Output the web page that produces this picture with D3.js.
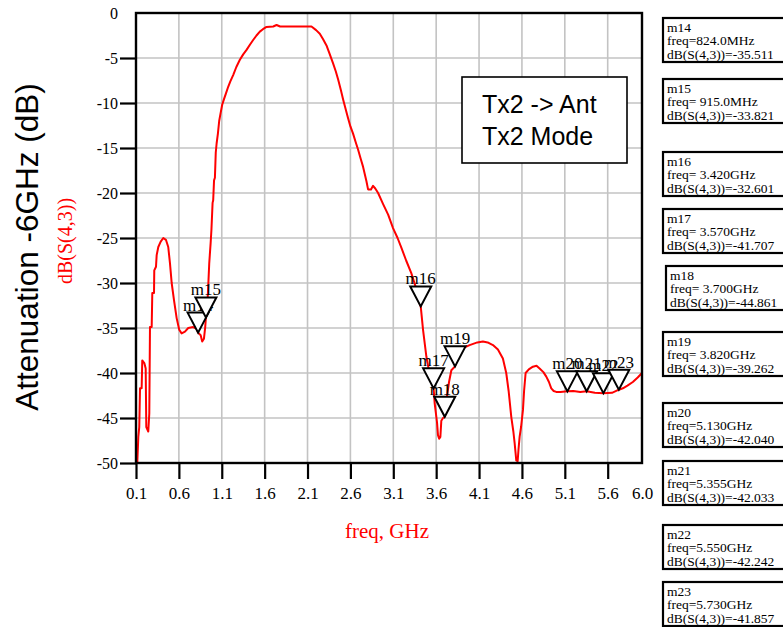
<!DOCTYPE html>
<html>
<head>
<meta charset="utf-8">
<script src="https://cdn.jsdelivr.net/npm/d3@7"></script>
<style>
  html, body { margin: 0; padding: 0; background: #fff; }
  svg { display: block; }
  .serif { font-family: "Liberation Serif", "Times New Roman", serif; }
  .sans { font-family: "Liberation Sans", Arial, sans-serif; }
</style>
</head>
<body>
<svg id="chart" width="783" height="627"></svg>
<script>
// Transmission dB(S(4,3)) versus frequency (GHz)
const freq = [
  0.115, 0.127, 0.138, 0.147, 0.166, 0.173, 0.197, 0.213, 0.220, 0.243,
  0.255, 0.263, 0.283, 0.290, 0.310, 0.313, 0.333, 0.341, 0.360, 0.388,
  0.418, 0.449, 0.476, 0.496, 0.516, 0.543, 0.574, 0.604, 0.632, 0.671,
  0.709, 0.767, 0.807, 0.824, 0.854, 0.872, 0.892, 0.907, 0.915, 0.931,
  0.942, 0.954, 0.970, 0.980, 0.993, 1.000, 1.010, 1.020, 1.030, 1.040,
  1.055, 1.070, 1.087, 1.105, 1.125, 1.150, 1.175, 1.200, 1.233, 1.270,
  1.311, 1.350, 1.389, 1.430, 1.466, 1.505, 1.544, 1.580, 1.622, 1.700,
  1.739, 1.780, 1.816, 2.000, 2.146, 2.200, 2.243, 2.280, 2.321, 2.360,
  2.398, 2.430, 2.457, 2.490, 2.515, 2.545, 2.573, 2.600, 2.631, 2.660,
  2.690, 2.720, 2.748, 2.787, 2.806, 2.840, 2.864, 2.890, 2.923, 2.980,
  3.040, 3.097, 3.150, 3.195, 3.250, 3.310, 3.360, 3.408, 3.420, 3.447,
  3.486, 3.530, 3.570, 3.583, 3.610, 3.621, 3.635, 3.649, 3.660, 3.680,
  3.700, 3.720, 3.750, 3.777, 3.820, 3.855, 3.900, 3.990, 4.080, 4.145,
  4.200, 4.262, 4.320, 4.378, 4.417, 4.445, 4.476, 4.500, 4.515, 4.534,
  4.550, 4.560, 4.573, 4.590, 4.612, 4.625, 4.643, 4.680, 4.728, 4.770,
  4.806, 4.850, 4.884, 4.915, 4.942, 4.970, 5.000, 5.050, 5.130, 5.200,
  5.280, 5.355, 5.450, 5.550, 5.650, 5.730, 5.777, 5.830, 5.893, 5.950,
  6.000
];
const s43dB = [
  -50.0, -47.1, -46.0, -41.7, -41.7, -38.6, -38.9, -39.5, -46.0, -46.5,
  -44.5, -34.9, -34.9, -31.1, -31.1, -28.6, -28.2, -26.9, -26.0, -25.4,
  -25.0, -25.2, -26.0, -27.8, -30.0, -31.9, -33.9, -35.2, -35.6, -35.4,
  -35.0, -34.9, -35.1, -35.511, -35.8, -36.5, -36.2, -34.9, -33.821, -32.6,
  -30.4, -27.8, -25.6, -24.0, -21.1, -20.8, -18.6, -18.3, -15.5, -14.5,
  -13.4, -12.0, -11.1, -10.2, -9.6, -8.9, -8.2, -7.6, -6.9, -6.0,
  -5.2, -4.6, -4.1, -3.5, -3.0, -2.5, -2.07, -1.8, -1.55, -1.5,
  -1.33, -1.5, -1.5, -1.5, -1.5, -1.9, -2.3, -2.9, -3.6, -4.6,
  -5.6, -6.5, -7.4, -8.6, -9.6, -10.7, -11.7, -12.6, -13.4, -14.3,
  -15.2, -16.2, -17.1, -18.7, -19.6, -19.6, -19.2, -19.5, -20.0, -21.2,
  -22.4, -23.9, -25.0, -26.1, -27.5, -28.9, -30.4, -32.3, -32.601, -35.2,
  -38.2, -40.4, -41.707, -43.4, -45.5, -46.9, -47.3, -47.1, -45.3, -45.0,
  -44.861, -43.0, -41.0, -39.7, -39.262, -37.8, -37.3, -36.9, -36.6, -36.5,
  -36.6, -36.9, -37.4, -38.4, -40.0, -42.0, -44.9, -46.5, -47.8, -49.7,
  -49.8, -48.5, -47.1, -46.0, -44.1, -42.0, -40.0, -39.6, -39.3, -39.2,
  -39.5, -39.9, -40.4, -41.0, -41.7, -42.0, -42.1, -42.1, -42.04, -42.0,
  -42.1, -42.033, -42.2, -42.242, -42.2, -41.857, -41.7, -41.4, -41.0, -40.5,
  -40.0
];

// Markers
const markerNames = ["m14", "m15", "m16", "m17", "m18", "m19", "m20", "m21", "m22", "m23"];
const markerFreq  = [0.824, 0.915, 3.420, 3.570, 3.700, 3.820, 5.130, 5.355, 5.550, 5.730];
const markerDb    = [-35.511, -33.821, -32.601, -41.707, -44.861, -39.262, -42.040, -42.033, -42.242, -41.857];
const markerGap   = ["", " ", " ", " ", " ", " ", "", "", "", ""];

// Axis ticks
const xTicks = [0.1, 0.6, 1.1, 1.6, 2.1, 2.6, 3.1, 3.6, 4.1, 4.6, 5.1, 5.6, 6.0];
const yTicks = [0, -5, -10, -15, -20, -25, -30, -35, -40, -45, -50];

const plot = { left: 136, right: 642, top: 13, bottom: 463 };
const svg = d3.select("#chart");

const x = d3.scaleLinear().domain([0.1, 6.0]).range([plot.left, plot.right]);
const y = d3.scaleLinear().domain([0, -50]).range([plot.top, plot.bottom]);

// Grid
const grid = svg.append("g").attr("stroke", "#c3c3c3").attr("stroke-width", 1.6);
grid.selectAll("line.v").data(xTicks.slice(1, -1)).join("line")
  .attr("x1", d => x(d)).attr("x2", d => x(d))
  .attr("y1", plot.top).attr("y2", plot.bottom);
grid.selectAll("line.h").data(yTicks.slice(1, -1)).join("line")
  .attr("x1", plot.left).attr("x2", plot.right)
  .attr("y1", d => y(d)).attr("y2", d => y(d));

// Y axis
const yAxis = svg.append("g")
  .attr("transform", `translate(${plot.left},0)`)
  .call(d3.axisLeft(y).tickValues(yTicks).tickSize(16).tickSizeOuter(0).tickPadding(2)
        .tickFormat(d3.format("d")));
yAxis.select(".domain").remove();
yAxis.selectAll(".tick line").attr("stroke", "#000").attr("stroke-width", 2.2)
  .attr("display", d => d === 0 ? "none" : null);
yAxis.selectAll(".tick text")
  .attr("class", "serif").attr("font-size", 16).attr("fill", "#000")
  .attr("dy", "0.33em")
  .text(d => d === 0 ? "0" : String(d));

// X axis
const xAxis = svg.append("g")
  .attr("transform", `translate(0,${plot.bottom})`)
  .call(d3.axisBottom(x).tickValues(xTicks).tickSize(16).tickSizeOuter(0)
        .tickFormat(d3.format(".1f")));
xAxis.select(".domain").remove();
xAxis.selectAll(".tick line").attr("stroke", "#000").attr("stroke-width", 2.2)
  .attr("display", d => d === 6.0 ? "none" : null);
xAxis.selectAll(".tick text")
  .attr("class", "serif").attr("font-size", 17).attr("fill", "#000")
  .attr("y", 36).attr("dy", 0);

// Curve
const line = d3.line().x((d, i) => x(freq[i])).y(d => y(d));
svg.append("path")
  .attr("d", line(s43dB))
  .attr("fill", "none").attr("stroke", "#ff0000").attr("stroke-width", 2)
  .attr("stroke-linejoin", "round");

// Frame
svg.append("rect")
  .attr("x", plot.left).attr("y", plot.top)
  .attr("width", plot.right - plot.left).attr("height", plot.bottom - plot.top)
  .attr("fill", "none").attr("stroke", "#000").attr("stroke-width", 2.4);

// Marker triangles with labels
const triW = 21, triH = 20;
markerNames.forEach((name, i) => {
  const mx = x(markerFreq[i]), my = y(markerDb[i]);
  const g = svg.append("g");
  g.append("text").attr("class", "serif").attr("font-size", 17)
    .attr("x", mx).attr("y", my - triH - 2).attr("text-anchor", "middle")
    .text(name);
  g.append("path")
    .attr("d", `M${mx - triW / 2},${my - triH}L${mx + triW / 2},${my - triH}L${mx},${my}Z`)
    .attr("fill", "#fff").attr("stroke", "#000").attr("stroke-width", 2)
    .attr("stroke-linejoin", "miter");
});

// Title box
svg.append("rect").attr("x", 462).attr("y", 77).attr("width", 165).attr("height", 86)
  .attr("fill", "#fff").attr("stroke", "#000").attr("stroke-width", 1.6);
svg.append("text").attr("class", "sans").attr("font-size", 25)
  .attr("x", 482).attr("y", 113).text("Tx2 -> Ant");
svg.append("text").attr("class", "sans").attr("font-size", 25)
  .attr("x", 482).attr("y", 145).text("Tx2 Mode");

// Axis titles
svg.append("text").attr("class", "sans").attr("font-size", 31.5)
  .attr("text-anchor", "middle")
  .attr("transform", "translate(38,247) rotate(-90)")
  .text("Attenuation -6GHz (dB)");
svg.append("text").attr("class", "serif").attr("font-size", 20).attr("fill", "#ff0000")
  .attr("text-anchor", "middle")
  .attr("transform", "translate(72,241) rotate(-90)")
  .text("dB(S(4,3))");
svg.append("text").attr("class", "serif").attr("font-size", 21).attr("fill", "#ff0000")
  .attr("text-anchor", "middle")
  .attr("x", 387).attr("y", 538)
  .text("freq, GHz");

// Marker readout boxes
const boxTop = [18, 79, 152, 209, 266, 332, 403, 461, 525, 582];
const boxLeft = [663, 663, 663, 663, 666, 663, 663, 663, 663, 663];
const fmtFreq = f => f < 1 ? (f * 1000).toFixed(1) + "MHz" : f.toFixed(3) + "GHz";
markerNames.forEach((name, i) => {
  const g = svg.append("g").attr("transform", `translate(${boxLeft[i]},${boxTop[i]})`);
  g.append("rect").attr("x", 0).attr("y", 0).attr("width", 140).attr("height", 44)
    .attr("fill", "#fff").attr("stroke", "#000").attr("stroke-width", 2.2);
  const lines = [name, "freq=" + markerGap[i] + fmtFreq(markerFreq[i]),
                 "dB(S(4,3))=" + markerDb[i].toFixed(3)];
  lines.forEach((t, j) => {
    g.append("text").attr("class", "serif").attr("font-size", 13.5)
      .attr("x", 4).attr("y", 14 + j * 13.3)
      .style("white-space", "pre")
      .text(t);
  });
});
</script>
</body>
</html>
